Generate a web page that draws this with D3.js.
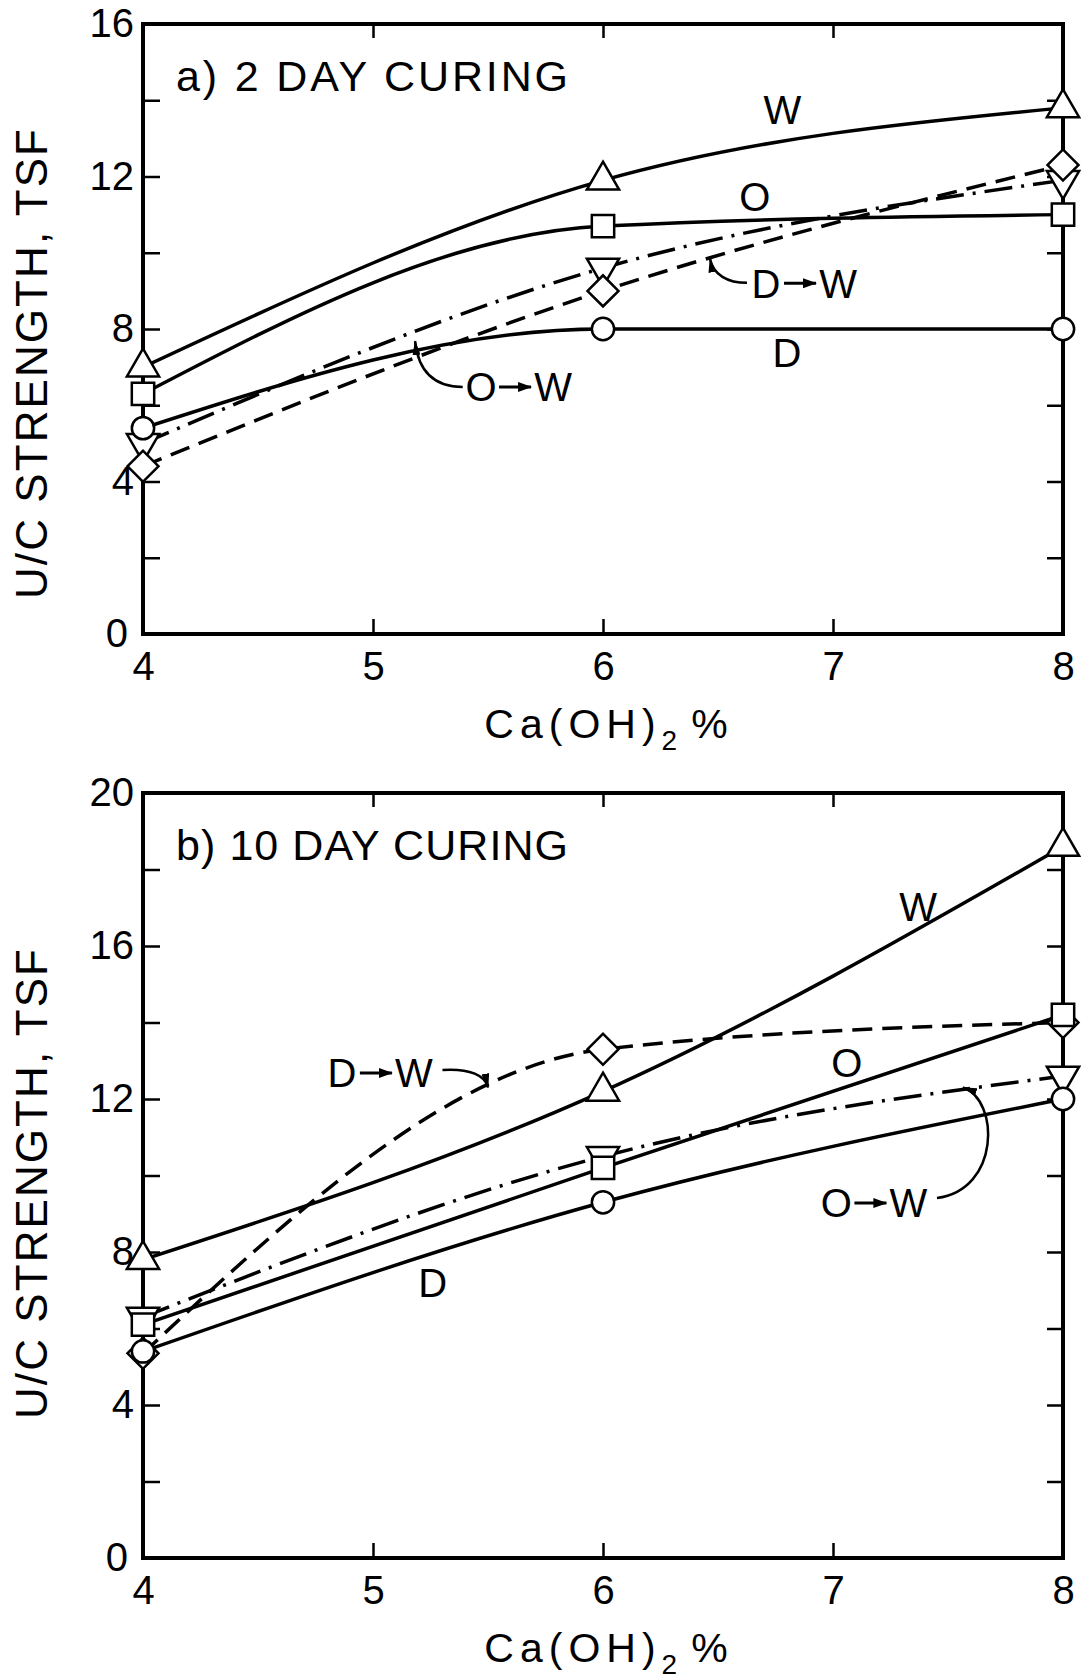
<!DOCTYPE html>
<html>
<head>
<meta charset="utf-8">
<script src="https://cdn.jsdelivr.net/npm/d3@7"></script>
<style>
    body { margin: 0; background: #fff; }
    svg { display: block; }
    text { font-family: "Liberation Sans", Arial, sans-serif; fill: #000; }
</style>
</head>
<body>
<svg id="chart" width="1081" height="1680"></svg>
<script>
// Ca(OH)2 content, %
const calcium = [4, 6, 8];
const xTicks = [4, 5, 6, 7, 8];
const yTicksA = [0, 2, 4, 6, 8, 10, 12, 14, 16];
const yTicksB = [0, 2, 4, 6, 8, 10, 12, 14, 16, 18, 20];

// a) 2 day curing, U/C strength in TSF
const twoDayW = [7.0, 11.9, 13.8];
const twoDayO = [6.3, 10.7, 11.0];
const twoDayD = [5.4, 8.0, 8.0];
const twoDayOW = [5.0, 9.6, 11.9];
const twoDayDW = [4.4, 9.0, 12.3];

// b) 10 day curing
const tenDayW = [7.8, 12.2, 18.6];
const tenDayO = [6.1, 10.2, 14.2];
const tenDayD = [5.4, 9.3, 12.0];
const tenDayOW = [6.3, 10.5, 12.6];
const tenDayDW = [5.35, 13.3, 14.0];

const Curing = {};

Curing.Chart = {
    init: function() {
        this.svg = d3.select("#chart");
        this.x = d3.scaleLinear().domain([4, 8]).range([143, 1063]);
        this._defs();
        this._drawPanel({
            title: "a) 2 DAY CURING",
            yMax: 16, yTicks: yTicksA, top: 24, bottom: 634,
            yLabelY: 364,
            series: this._series(twoDayW, twoDayO, twoDayD, twoDayOW, twoDayDW),
            labels: [["W", 6.78, 13.75], ["O", 6.66, 11.47], ["D", 6.80, 7.37]],
            arrowLabels: [["D", "W", 6.874, 9.2], ["O", "W", 5.635, 6.48]],
            leaders: [
                [[5.39, 6.48], [5.26, 6.48], [5.196, 6.93], [5.183, 7.68]],
                [[6.626, 9.21], [6.543, 9.21], [6.478, 9.42], [6.465, 9.85]]
            ]
        });
        this._drawPanel({
            title: "b) 10 DAY CURING",
            yMax: 20, yTicks: yTicksB, top: 793, bottom: 1558,
            yLabelY: 1184,
            series: this._series(tenDayW, tenDayO, tenDayD, tenDayOW, tenDayDW),
            labels: [["W", 7.37, 17.02], ["O", 7.06, 12.94], ["D", 5.26, 7.19]],
            arrowLabels: [["O", "W", 7.18, 9.28], ["D", "W", 5.03, 12.68]],
            leaders: [
                [[5.302, 12.76], [5.422, 12.81], [5.49, 12.6], [5.5, 12.3]],
                [[7.452, 9.41], [7.726, 9.62], [7.726, 11.97], [7.565, 12.3]]
            ]
        });
    },
    _series: function(w, o, d, ow, dw) {
        // drawn in this order so the markers overlap like the original
        return [
            { name: "O\u2192W", values: ow, dash: "28,9,3,9", mark: "down" },
            { name: "D\u2192W", values: dw, dash: "20,10", mark: "diamond" },
            { name: "D", values: d, dash: null, mark: "circle" },
            { name: "O", values: o, dash: null, mark: "square" },
            { name: "W", values: w, dash: null, mark: "up" }
        ];
    },
    _defs: function() {
        const defs = this.svg.append("defs");
        defs.append("marker")
            .attr("id", "arrow")
            .attr("markerUnits", "userSpaceOnUse")
            .attr("markerWidth", 15)
            .attr("markerHeight", 8)
            .attr("refX", 14)
            .attr("refY", 4)
            .attr("orient", "auto")
            .append("path")
            .attr("d", "M0,0L15,4L0,8Z")
            .attr("fill", "#000");
        defs.append("marker")
            .attr("id", "arrowSmall")
            .attr("markerUnits", "userSpaceOnUse")
            .attr("markerWidth", 14)
            .attr("markerHeight", 10)
            .attr("refX", 13)
            .attr("refY", 5)
            .attr("orient", "auto")
            .append("path")
            .attr("d", "M0,0L14,5L0,10Z")
            .attr("fill", "#000");
    },
    _symbol: function(kind) {
        if (kind === "circle") return d3.symbol().type(d3.symbolCircle).size(390)();
        if (kind === "square") return d3.symbol().type(d3.symbolSquare).size(500)();
        if (kind === "diamond") return d3.symbol().type(d3.symbolSquare).size(480)();
        return d3.symbol().type(d3.symbolTriangle).size(450)();
    },
    _rotation: function(kind) {
        if (kind === "diamond") return 45;
        if (kind === "down") return 180;
        return 0;
    },
    _drawPanel: function(p) {
        const x = this.x;
        const y = d3.scaleLinear().domain([0, p.yMax]).range([p.bottom, p.top]);
        const g = this.svg.append("g");

        // frame
        g.append("rect")
            .attr("x", x(4))
            .attr("y", y(p.yMax))
            .attr("width", x(8) - x(4))
            .attr("height", y(0) - y(p.yMax))
            .attr("fill", "none")
            .attr("stroke", "#000")
            .attr("stroke-width", 4);

        const styleAxis = function(sel) {
            sel.select(".domain").remove();
            sel.attr("font-family", null).attr("font-size", 40);
            sel.selectAll(".tick line").attr("stroke-width", 2.5);
        };

        g.append("g")
            .attr("transform", `translate(${x(4)},0)`)
            .call(d3.axisLeft(y).tickValues(p.yTicks).tickSizeInner(-17).tickSizeOuter(0)
                .tickPadding(9).tickFormat(d => d % 4 === 0 ? d : ""))
            .call(styleAxis)
            .call(sel => sel.selectAll(".tick text").filter(d => d === 0).attr("dx", -6));

        g.append("g")
            .attr("transform", `translate(${x(8)},0)`)
            .call(d3.axisRight(y).tickValues(p.yTicks.slice(1, -1)).tickSizeInner(-16)
                .tickSizeOuter(0).tickFormat(""))
            .call(styleAxis);

        g.append("g")
            .attr("transform", `translate(0,${y(0)})`)
            .call(d3.axisBottom(x).tickValues(xTicks).tickSizeInner(-15).tickSizeOuter(0)
                .tickPadding(18).tickFormat(d3.format("d")))
            .call(styleAxis);

        g.append("g")
            .attr("transform", `translate(0,${y(p.yMax)})`)
            .call(d3.axisTop(x).tickValues(xTicks.slice(1, -1)).tickSizeInner(-14)
                .tickSizeOuter(0).tickFormat(""))
            .call(styleAxis);

        // titles
        g.append("text")
            .attr("x", 176)
            .attr("y", y(p.yMax) + 67)
            .attr("font-size", 43)
            .attr("textLength", 392)
            .attr("lengthAdjust", "spacing")
            .text(p.title);

        g.append("text")
            .attr("transform", `translate(47,${p.yLabelY}) rotate(-90)`)
            .attr("text-anchor", "middle")
            .attr("font-size", 44)
            .attr("textLength", 470)
            .attr("lengthAdjust", "spacing")
            .text("U/C STRENGTH, TSF");

        const xt = g.append("text")
            .attr("x", 609)
            .attr("y", y(0) + 104)
            .attr("text-anchor", "middle")
            .attr("font-size", 41)
            .attr("letter-spacing", 6);
        xt.append("tspan").text("Ca(OH)");
        xt.append("tspan").attr("font-size", 28).attr("dy", 12).text("2");
        xt.append("tspan").attr("dy", -12).attr("dx", 8).text("%");

        // curves
        const line = d3.line()
            .x((d, i) => x(calcium[i]))
            .y(d => y(d))
            .curve(d3.curveMonotoneX);

        g.selectAll("path.series")
            .data(p.series)
            .enter()
            .append("path")
            .attr("class", "series")
            .attr("d", d => line(d.values))
            .attr("fill", "none")
            .attr("stroke", "#000")
            .attr("stroke-width", 3.5)
            .attr("stroke-dasharray", d => d.dash);

        // markers
        const self = this;
        p.series.forEach(function(s) {
            g.selectAll(null)
                .data(s.values)
                .enter()
                .append("path")
                .attr("d", self._symbol(s.mark))
                .attr("transform", (d, i) => `translate(${x(calcium[i])},${y(d)}) rotate(${self._rotation(s.mark)})`)
                .attr("fill", "#fff")
                .attr("stroke", "#000")
                .attr("stroke-width", 2.5);
        });

        // leader arrows
        p.leaders.forEach(function(pts) {
            const path = d3.path();
            path.moveTo(x(pts[0][0]), y(pts[0][1]));
            path.bezierCurveTo(x(pts[1][0]), y(pts[1][1]), x(pts[2][0]), y(pts[2][1]),
                x(pts[3][0]), y(pts[3][1]));
            g.append("path")
                .attr("d", path.toString())
                .attr("fill", "none")
                .attr("stroke", "#000")
                .attr("stroke-width", 2.5)
                .attr("marker-end", "url(#arrow)");
        });

        g.selectAll("text.label")
            .data(p.labels)
            .enter()
            .append("text")
            .attr("class", "label")
            .attr("x", d => x(d[1]))
            .attr("y", d => y(d[2]))
            .attr("dy", "0.36em")
            .attr("text-anchor", "middle")
            .attr("font-size", 40)
            .text(d => d[0]);

        // "D -> W" style labels, drawn as two letters with a small arrow between
        p.arrowLabels.forEach(function(d) {
            const cx = x(d[2]);
            const cy = y(d[3]);
            g.append("text")
                .attr("x", cx - 38)
                .attr("y", cy)
                .attr("dy", "0.36em")
                .attr("text-anchor", "middle")
                .attr("font-size", 40)
                .text(d[0]);
            g.append("line")
                .attr("x1", cx - 20)
                .attr("x2", cx + 12)
                .attr("y1", cy)
                .attr("y2", cy)
                .attr("stroke", "#000")
                .attr("stroke-width", 3)
                .attr("marker-end", "url(#arrowSmall)");
            g.append("text")
                .attr("x", cx + 34)
                .attr("y", cy)
                .attr("dy", "0.36em")
                .attr("text-anchor", "middle")
                .attr("font-size", 40)
                .text(d[1]);
        });
    }
};

Curing.Chart.init();
</script>
</body>
</html>
